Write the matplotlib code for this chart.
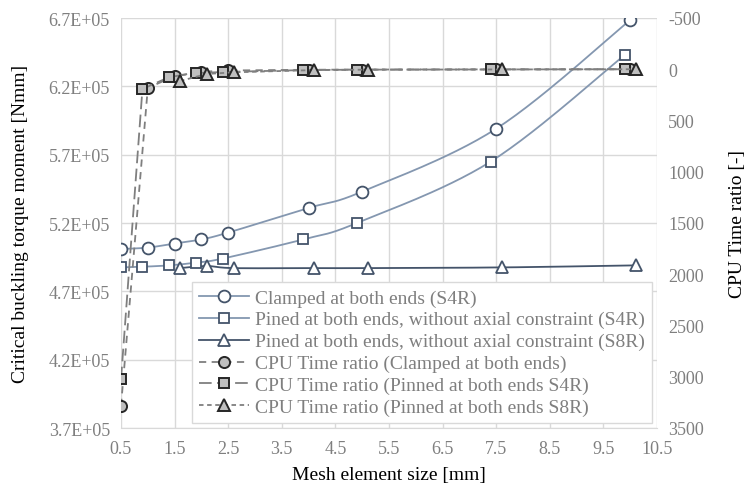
import numpy as np
import matplotlib
matplotlib.use("Agg")
import matplotlib.pyplot as plt
from matplotlib.lines import Line2D

plt.rcParams['font.family'] = ['Liberation Serif', 'DejaVu Serif']

# ---------------- data ----------------
x_clamped = [0.5, 1.0, 1.5, 2.0, 2.5, 4.0, 5.0, 7.5, 10.0]
y_clamped = [5.01e5, 5.02e5, 5.05e5, 5.08e5, 5.13e5, 5.31e5, 5.43e5, 5.89e5, 6.685e5]

x_s4r = [0.5, 0.9, 1.4, 1.9, 2.4, 3.9, 4.9, 7.4, 9.9]
y_s4r = [4.875e5, 4.88e5, 4.89e5, 4.91e5, 4.94e5, 5.08e5, 5.20e5, 5.65e5, 6.43e5]

x_s8r = [1.6, 2.1, 2.6, 4.1, 5.1, 7.6, 10.1]
y_s8r = [4.87e5, 4.885e5, 4.87e5, 4.87e5, 4.87e5, 4.875e5, 4.89e5]

cpu_clamped = [3285, 183, 66, 25, 12, 5, 3, 1, 0]
cpu_s4r = [3025, 193, 76, 37, 27, 8, 4, 2, 0]
cpu_s8r = [115, 46, 30, 8, 4, 2, 0]

labels = [
    "Clamped at both ends (S4R)",
    "Pined at both ends, without axial constraint (S4R)",
    "Pined at both ends, without axial constraint (S8R)",
    "CPU Time ratio (Clamped at both ends)",
    "CPU Time ratio (Pinned at both ends S4R)",
    "CPU Time ratio (Pinned at both ends S8R)",
]

x_ticks = [0.5, 1.5, 2.5, 3.5, 4.5, 5.5, 6.5, 7.5, 8.5, 9.5, 10.5]
left_ticks = [3.7e5, 4.2e5, 4.7e5, 5.2e5, 5.7e5, 6.2e5, 6.7e5]
right_ticks = [-500, 0, 500, 1000, 1500, 2000, 2500, 3000, 3500]

# ---------------- styling ----------------
W, H = 750, 489
fig = plt.figure(figsize=(W / 100, H / 100), dpi=100)
fig.subplots_adjust(left=121 / W, right=657 / W, top=1 - 19 / H, bottom=1 - 429 / H)
ax = fig.add_subplot(111)
ax2 = ax.twinx()

XLIM = (0.5, 10.5)
YLIM = (3.7e5, 6.7e5)

grid_c = '#d9d9d9'
tick_c = '#7f7f7f'
dark = '#44546a'
light = '#8497b0'
cpu_line = '#7f7f7f'
cpu_fill = '#bfbfbf'


def smooth(xs, ys, xr, yr, n=30):
    """Excel-like smoothing (Catmull-Rom in normalized screen space)."""
    px = (np.asarray(xs, float) - xr[0]) / (xr[1] - xr[0])
    py = (np.asarray(ys, float) - yr[0]) / (yr[1] - yr[0])
    P = np.column_stack([px, py])
    out = [P[0]]
    for i in range(len(P) - 1):
        p0 = P[i - 1] if i > 0 else P[i]
        p1, p2 = P[i], P[i + 1]
        p3 = P[i + 2] if i + 2 < len(P) else P[i + 1]
        c1 = p1 + (p2 - p0) / 6
        c2 = p2 - (p3 - p1) / 6
        t = np.linspace(0, 1, n)[1:, None]
        seg = ((1 - t) ** 3) * p1 + 3 * ((1 - t) ** 2) * t * c1 + 3 * (1 - t) * t ** 2 * c2 + t ** 3 * p2
        out.extend(seg)
    out = np.array(out)
    return out[:, 0] * (xr[1] - xr[0]) + xr[0], out[:, 1] * (yr[1] - yr[0]) + yr[0]


# main series on left axis
for xs, ys, lc, mk, ms in [
    (x_clamped, y_clamped, light, 'o', 8.5),
    (x_s4r, y_s4r, light, 's', 6.5),
    (x_s8r, y_s8r, dark, '^', 8.5),
]:
    sx, sy = smooth(xs, ys, XLIM, YLIM)
    ax.plot(sx, sy, color=lc, lw=1.3, zorder=3)
    ax.plot(xs, ys, ls='none', marker=mk, ms=ms, mfc='white', mec=dark, mew=1.3, zorder=4)

# CPU series on right axis
ax2.plot(x_clamped, cpu_clamped, color=cpu_line, lw=1.3, ls=(0, (4, 3)),
         marker='o', ms=8, mfc=cpu_fill, mec='#262626', mew=1.4, zorder=5)
ax2.plot(x_s4r, cpu_s4r, color=cpu_line, lw=1.3, ls=(0, (7, 3)),
         marker='s', ms=7, mfc=cpu_fill, mec='#262626', mew=1.4, zorder=5)
ax2.plot(x_s8r, cpu_s8r, color=cpu_line, lw=1.3, ls=(0, (2.5, 2)),
         marker='^', ms=9, mfc=cpu_fill, mec='#262626', mew=1.4, zorder=5)

# axes
ax.set_xlim(*XLIM)
ax.set_ylim(*YLIM)
ax.set_xticks(x_ticks)
ax.set_xticklabels([f"{v:.1f}" for v in x_ticks])
ax.set_yticks(left_ticks)
ax.set_yticklabels([f"{v / 1e5:.1f}E+05" for v in left_ticks])
ax2.set_ylim(3500, -500)
ax2.set_yticks(right_ticks)
ax2.set_yticklabels([str(v) for v in right_ticks])

ax.grid(True, color=grid_c, lw=1.0, zorder=0)
ax.set_axisbelow(True)
for a in (ax, ax2):
    for s in a.spines.values():
        s.set_visible(False)
    a.tick_params(length=0, labelsize=13, colors=tick_c, pad=8)
ax.spines['bottom'].set_visible(True)
ax.spines['bottom'].set_color(grid_c)
ax.tick_params(axis='x', pad=9)

ax.set_xlabel("Mesh element size [mm]", fontsize=14, color='black', labelpad=6)
ax.set_ylabel("Critical buckling torque moment [Nmm]", fontsize=14, color='black', labelpad=14)
ax2.set_ylabel("CPU Time ratio [-]", fontsize=14, color='black', labelpad=18)

# legend
handles = [
    Line2D([], [], color=light, lw=1.3, marker='o', ms=8.5, mfc='white', mec=dark, mew=1.3),
    Line2D([], [], color=light, lw=1.3, marker='s', ms=6.5, mfc='white', mec=dark, mew=1.3),
    Line2D([], [], color=dark, lw=1.3, marker='^', ms=8.5, mfc='white', mec=dark, mew=1.3),
    Line2D([], [], color=cpu_line, lw=1.3, ls=(0, (4, 3)), marker='o', ms=8, mfc=cpu_fill, mec='#262626', mew=1.4),
    Line2D([], [], color=cpu_line, lw=1.3, ls=(0, (7, 3)), marker='s', ms=7, mfc=cpu_fill, mec='#262626', mew=1.4),
    Line2D([], [], color=cpu_line, lw=1.3, ls=(0, (2.5, 2)), marker='^', ms=9, mfc=cpu_fill, mec='#262626', mew=1.4),
]
leg = ax2.legend(handles, labels, loc='upper left', bbox_to_anchor=(0.132, 0.356),
                 fontsize=14, frameon=True, fancybox=False, edgecolor=grid_c,
                 framealpha=1, handlelength=2.6, handletextpad=0.3, labelspacing=0.22,
                 borderpad=0.35, borderaxespad=0)
leg.get_frame().set_linewidth(1.0)
for t in leg.get_texts():
    t.set_color(tick_c)
leg.set_zorder(10)

fig.savefig("out.png", dpi=100)
